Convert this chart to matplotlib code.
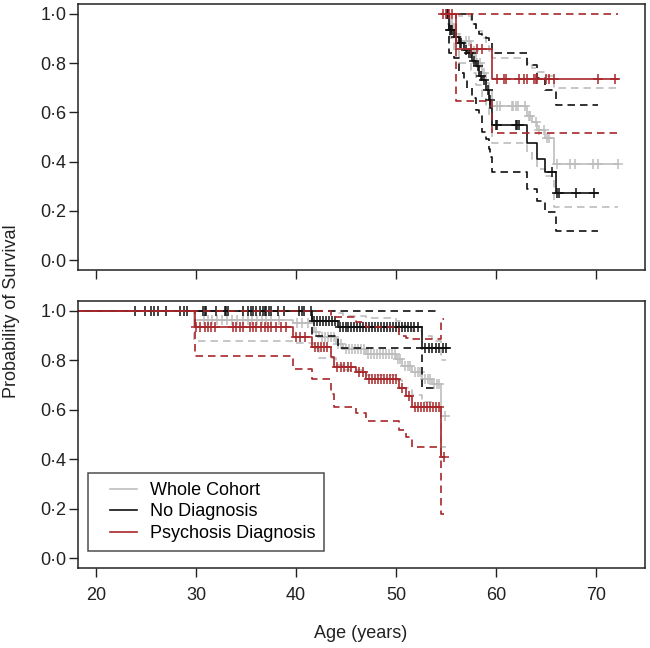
import numpy as np
import matplotlib.pyplot as plt
from matplotlib.legend_handler import HandlerLine2D

plt.rcParams['font.family'] = ['Liberation Sans', 'DejaVu Sans']

GRAY = '#bdbdbd'
BLACK = '#111111'
RED = '#a8272a'

# ---- top panel (older ages) ----
top_gray_t = [54.9, 55.4, 55.8, 56.3, 57.5, 58.0, 58.6, 59.0, 59.3, 59.6, 63.1, 63.6, 64.1, 64.9, 65.8]
top_gray_s = [1.0, 0.96, 0.92, 0.89, 0.85, 0.80, 0.76, 0.72, 0.69, 0.625, 0.584, 0.56, 0.53, 0.498, 0.389]
top_gray_hi = [1.0, 1.0, 1.0, 0.99, 0.96, 0.93, 0.90, 0.87, 0.85, 0.82, 0.80, 0.78, 0.766, 0.746, 0.70]
top_gray_lo = [1.0, 0.90, 0.85, 0.80, 0.76, 0.71, 0.66, 0.62, 0.58, 0.476, 0.44, 0.41, 0.37, 0.34, 0.215]
top_gray_end = 72.2
top_gray_cens = [55.2, 55.6, 56.0, 56.5, 57.0, 57.3, 57.8, 58.1, 58.4, 58.8, 60.1, 60.4, 61.6, 61.7,
                 62.0, 62.2, 62.9, 63.3, 63.4, 64.0, 64.3, 64.8, 65.1, 65.3, 66.1, 67.4, 67.9, 69.7, 70.2, 72.2]

top_black_t = [55.0, 55.3, 55.8, 56.3, 56.8, 57.1, 57.6, 58.0, 58.3, 58.6, 59.0, 59.3, 59.45, 59.6, 63.1, 64.1, 64.9, 66.0]
top_black_s = [1.0, 0.935, 0.908, 0.881, 0.854, 0.841, 0.807, 0.787, 0.746, 0.733, 0.692, 0.652, 0.618, 0.547, 0.476, 0.412, 0.358, 0.271]
top_black_hi = [1.0, 1.0, 1.0, 1.0, 1.0, 1.0, 0.96, 0.93, 0.92, 0.91, 0.90, 0.89, 0.888, 0.843, 0.794, 0.74, 0.692, 0.632]
top_black_lo = [1.0, 0.84, 0.82, 0.76, 0.73, 0.70, 0.66, 0.61, 0.585, 0.52, 0.49, 0.45, 0.42, 0.358, 0.287, 0.24, 0.194, 0.117]
top_black_end = 70.2
top_black_cens = [55.1, 55.2, 55.4, 55.5, 55.6, 56.0, 56.4, 56.5, 57.0, 57.3, 57.5, 57.8, 58.2, 58.5, 58.8, 59.2, 59.4,
                  60.0, 60.1, 62.0, 62.1, 62.3, 65.6, 66.1, 66.3, 68.0, 69.8]

top_red_t = [54.5, 56.0, 59.6]
top_red_s = [1.0, 0.857, 0.735]
top_red_hi = [1.0, 1.0, 1.0]
top_red_lo = [1.0, 0.645, 0.518]
top_red_end = 72.2
top_red_cens = [54.7, 55.0, 55.3, 55.6, 57.5, 58.1, 58.6, 60.1, 60.8, 61.0, 62.3, 62.8, 63.1, 63.8, 64.0, 64.1,
                65.0, 65.3, 65.8, 70.2, 71.9]

# ---- bottom panel (younger ages) ----
bot_gray_t = [18.2, 29.8, 39.7, 41.8, 42.3, 44.0, 44.7, 47.0, 50.0, 50.6, 51.6, 52.6, 53.6, 54.55]
bot_gray_s = [1.0, 0.965, 0.95, 0.915, 0.895, 0.866, 0.846, 0.826, 0.806, 0.778, 0.752, 0.725, 0.704, 0.576]
bot_gray_hi = [1.0, 1.0, 1.0, 1.0, 1.0, 0.99, 0.98, 0.97, 0.96, 0.94, 0.92, 0.90, 0.88, 0.80]
bot_gray_lo = [1.0, 0.88, 0.87, 0.85, 0.81, 0.78, 0.76, 0.74, 0.72, 0.69, 0.66, 0.63, 0.61, 0.45]
bot_gray_end = 55.0
bot_gray_cens = [30.8, 31.2, 31.6, 32.1, 32.6, 33.1, 33.6, 34.1, 34.7, 35.2, 35.6, 36.1, 36.6, 37.0, 37.5, 38.3,
                 40.1, 40.6, 41.2, 42.0, 42.6, 42.9, 43.2, 43.5, 43.8, 44.2, 44.5, 45.0, 45.3, 45.6, 45.9, 46.2,
                 46.5, 46.8, 47.2, 47.5, 47.8, 48.1, 48.4, 48.7, 49.0, 49.3, 49.6, 49.9, 50.2, 50.4, 50.9, 51.2,
                 51.4, 51.9, 52.2, 52.4, 52.9, 53.2, 53.4, 53.8, 54.1, 54.3, 54.9]

bot_black_t = [18.2, 41.6, 44.2, 52.6]
bot_black_s = [1.0, 0.961, 0.934, 0.85]
bot_black_hi = [1.0, 1.0, 1.0, 1.0]
bot_black_lo = [1.0, 0.90, 0.85, 0.69]
bot_black_end = 55.3
bot_black_ci_end = 54.2
bot_black_cens = [23.9, 24.9, 25.5, 25.8, 26.2, 27.0, 28.4, 28.8, 29.1, 30.7, 30.9, 31.0, 32.0, 32.9, 33.0,
                  33.2, 34.7, 35.2, 35.5, 35.7, 36.0, 36.4, 36.7, 36.9, 37.0, 37.3, 37.5, 38.2, 38.8, 40.3,
                  40.6, 40.8, 41.5, 41.8, 42.1, 42.4, 42.7, 43.0, 43.3, 43.6, 43.9, 44.4, 44.7, 45.0, 45.2,
                  45.5, 45.8, 46.1, 46.4, 46.7, 47.0, 47.3, 47.6, 47.9, 48.2, 48.5, 48.8, 49.1, 49.4, 49.7,
                  50.0, 50.3, 50.6, 50.9, 51.2, 51.5, 51.8, 52.2, 52.9, 53.3, 53.6, 54.0, 54.3, 54.7, 55.0]

bot_red_t = [18.2, 29.9, 39.7, 41.6, 43.5, 43.8, 46.0, 47.0, 50.3, 51.0, 51.6, 54.55]
bot_red_s = [1.0, 0.934, 0.895, 0.853, 0.814, 0.773, 0.752, 0.725, 0.69, 0.657, 0.61, 0.408]
bot_red_hi = [1.0, 1.0, 1.0, 1.0, 0.985, 0.975, 0.955, 0.935, 0.90, 0.89, 0.887, 0.967]
bot_red_lo = [1.0, 0.816, 0.765, 0.725, 0.664, 0.61, 0.585, 0.555, 0.52, 0.49, 0.45, 0.178]
bot_red_end = 54.8
bot_red_cens = [30.0, 30.4, 30.9, 31.2, 31.5, 31.9, 33.7, 34.0, 34.4, 34.7, 35.4, 35.7, 36.0, 36.5, 36.9,
                37.2, 37.5, 38.0, 38.5, 39.0, 40.0, 40.4, 40.9, 41.9, 42.2, 42.5, 42.8, 43.1, 44.1, 44.5,
                44.8, 45.2, 45.5, 46.3, 46.7, 47.3, 47.6, 47.9, 48.2, 48.5, 48.8, 49.1, 49.4, 49.7, 50.0,
                50.6, 51.3, 51.9, 52.2, 52.5, 52.8, 53.1, 53.4, 53.7, 54.0, 54.3, 54.8]

labels = ['Whole Cohort', 'No Diagnosis', 'Psychosis Diagnosis']
yticks = [0.0, 0.2, 0.4, 0.6, 0.8, 1.0]
ytick_labels = ['0·0', '0·2', '0·4', '0·6', '0·8', '1·0']
xticks = [20, 30, 40, 50, 60, 70]


def km(ax, t, s, end, color, ls='-'):
    x = list(t) + [end]
    y = list(s) + [s[-1]]
    line, = ax.step(x, y, where='post', color=color, lw=1.2, ls=ls)
    if ls == '--':
        line.set_dashes((4.5, 3))
    return line


def censor(ax, t, s, times, color):
    idx = np.searchsorted(t, times, side='right') - 1
    ys = np.array(s)[idx]
    ax.plot(times, ys, ls='none', marker='+', ms=7, mew=1.1, color=color)


def group(ax, t, s, hi, lo, end, cens, color, ci_end=None):
    ce = end if ci_end is None else ci_end
    km(ax, t, hi, ce, color, '--')
    km(ax, t, lo, ce, color, '--')
    line = km(ax, t, s, end, color)
    censor(ax, t, s, cens, color)
    return line


fig = plt.figure(figsize=(6.5, 6.48), dpi=100)
ax1 = fig.add_axes([0.12, 0.5833, 0.872, 0.4105])
ax2 = fig.add_axes([0.12, 0.1235, 0.872, 0.412])

group(ax1, top_gray_t, top_gray_s, top_gray_hi, top_gray_lo, top_gray_end, top_gray_cens, GRAY)
group(ax1, top_black_t, top_black_s, top_black_hi, top_black_lo, top_black_end, top_black_cens, BLACK)
group(ax1, top_red_t, top_red_s, top_red_hi, top_red_lo, top_red_end, top_red_cens, RED)

lines = []
lines.append(group(ax2, bot_gray_t, bot_gray_s, bot_gray_hi, bot_gray_lo, bot_gray_end, bot_gray_cens, GRAY))
lines.append(group(ax2, bot_black_t, bot_black_s, bot_black_hi, bot_black_lo, bot_black_end, bot_black_cens,
                   BLACK, ci_end=bot_black_ci_end))
lines.append(group(ax2, bot_red_t, bot_red_s, bot_red_hi, bot_red_lo, bot_red_end, bot_red_cens, RED))

for ax in (ax1, ax2):
    ax.set_xlim(18.2, 74.9)
    ax.set_ylim(-0.04, 1.04)
    ax.set_yticks(yticks)
    ax.set_yticklabels(ytick_labels)
    ax.set_xticks(xticks)
    ax.tick_params(direction='out', length=6.5, width=1, labelsize=13, colors='#222222', pad=2)
    ax.tick_params(axis='x', pad=7)
    for sp in ax.spines.values():
        sp.set_linewidth(1.1)
        sp.set_color('#222222')
ax1.set_xticklabels([])

leg = ax2.legend(lines, labels, loc='lower left', bbox_to_anchor=(0.0177, 0.064), fontsize=13,
                 frameon=True, fancybox=False, borderpad=0.5, handlelength=2.2, handletextpad=0.72,
                 labelspacing=0.25, borderaxespad=0,
                 handler_map={l: HandlerLine2D(xpad=0.72) for l in lines})
leg.get_frame().set_edgecolor('#222222')
leg.get_frame().set_linewidth(1.1)

fig.text(0.017, 0.52, 'Probability of Survival', rotation=90, va='center', ha='center', fontsize=13, color='#222222')
fig.text(0.555, 1 - 633 / 648, 'Age (years)', ha='center', va='center', fontsize=13, color='#222222')

fig.savefig('out.png', dpi=100)
